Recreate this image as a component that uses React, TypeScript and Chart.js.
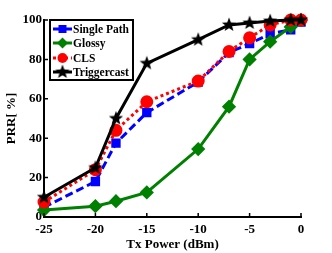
import React, { useEffect, useRef } from "react";
import { Chart, registerables } from "chart.js";

Chart.register(...registerables);

const txPower = [-25, -20, -18, -15, -10, -7, -5, -3, -1, 0];
const singlePath = [5, 18, 37.5, 53, 68.5, 83.5, 88, 93, 95, 99];
const glossy = [3.5, 5.5, 8, 12.5, 34.5, 56, 80, 89, 96.5, 100];
const cls = [7.6, 24, 44, 58.5, 69, 84, 91, 97.5, 100, 100];
const triggercast = [10, 25, 50, 78, 90, 97.5, 98.5, 99.5, 100, 100];
const xTicks = [-25, -20, -15, -10, -5, 0];
const yTicks = [0, 20, 40, 60, 80, 100];
const seriesNames = ["Single Path", "Glossy", "CLS", "Triggercast"];

const FONT = "'Liberation Serif', 'Times New Roman', serif";

function makeStar(size: number): HTMLCanvasElement {
  const c = document.createElement("canvas");
  c.width = size;
  c.height = size;
  const g = c.getContext("2d")!;
  const cx = size / 2, cy = size / 2;
  const R = size / 2 - 0.5, r = R * 0.42;
  g.beginPath();
  for (let i = 0; i < 10; i++) {
    const ang = -Math.PI / 2 + (i * Math.PI) / 5;
    const rad = i % 2 === 0 ? R : r;
    const px = cx + rad * Math.cos(ang), py = cy + rad * Math.sin(ang);
    if (i === 0) g.moveTo(px, py); else g.lineTo(px, py);
  }
  g.closePath();
  g.fillStyle = "#000";
  g.fill();
  return c;
}

export default function App() {
  const ref = useRef<HTMLCanvasElement>(null);
  useEffect(() => {
    const star = makeStar(16);
    const toPts = (arr: number[]) => arr.map((y, i) => ({ x: txPower[i], y }));

    const inwardTicks = {
      id: "inwardTicks",
      afterDraw(chart: any) {
        const ctx = chart.ctx;
        const xs = chart.scales.x, ys = chart.scales.y;
        const area = chart.chartArea;
        ctx.save();
        ctx.strokeStyle = "#000";
        ctx.lineWidth = 1.5;
        ctx.beginPath();
        xTicks.forEach((v) => {
          const px = xs.getPixelForValue(v);
          ctx.moveTo(px, area.bottom);
          ctx.lineTo(px, area.bottom - 4);
        });
        yTicks.forEach((v) => {
          const py = ys.getPixelForValue(v);
          ctx.moveTo(area.left, py);
          ctx.lineTo(area.left + 4, py);
        });
        ctx.stroke();
        ctx.restore();
      },
    };

    const legendBox = {
      id: "legendBox",
      afterDraw(chart: any) {
        const ctx = chart.ctx;
        const area = chart.chartArea;
        const x0 = area.left + 6, y0 = area.top;
        const w = 83, h = 60;
        ctx.save();
        ctx.fillStyle = "#fff";
        ctx.fillRect(x0, y0, w, h);
        ctx.strokeStyle = "#000";
        ctx.lineWidth = 2;
        ctx.strokeRect(x0, y0, w, h);
        const rows = [9, 23, 38, 52];
        chart.data.datasets.forEach((ds: any, i: number) => {
          const y = y0 + rows[i];
          ctx.save();
          ctx.strokeStyle = ds.borderColor;
          ctx.lineWidth = ds.borderWidth;
          ctx.setLineDash(ds.borderDash || []);
          ctx.beginPath();
          ctx.moveTo(x0 + 3, y);
          ctx.lineTo(x0 + 22, y);
          ctx.stroke();
          ctx.restore();
          const mx = x0 + 12.5;
          ctx.fillStyle = ds.pointBackgroundColor;
          if (ds.pointStyle === "rect") {
            ctx.fillRect(mx - 4, y - 4, 8, 8);
          } else if (ds.pointStyle === "rectRot") {
            ctx.beginPath();
            ctx.moveTo(mx, y - 5.5);
            ctx.lineTo(mx + 5.5, y);
            ctx.lineTo(mx, y + 5.5);
            ctx.lineTo(mx - 5.5, y);
            ctx.closePath();
            ctx.fill();
          } else if (ds.pointStyle === "circle") {
            ctx.beginPath();
            ctx.arc(mx, y, 5, 0, Math.PI * 2);
            ctx.fill();
          } else {
            ctx.drawImage(star, mx - star.width / 2, y - star.height / 2);
          }
          ctx.fillStyle = "#000";
          ctx.font = "bold 11.5px " + FONT;
          ctx.textBaseline = "middle";
          ctx.textAlign = "left";
          ctx.fillText(seriesNames[i], x0 + 23, y + 1);
        });
        ctx.restore();
      },
    };

    const chart = new Chart(ref.current!, {
      type: "line",
      data: {
        datasets: [
          {
            label: seriesNames[0],
            data: toPts(singlePath),
            borderColor: "#0000ff",
            backgroundColor: "#0000ff",
            pointBackgroundColor: "#0000ff",
            pointBorderColor: "#0000ff",
            borderWidth: 3,
            borderDash: [8, 4],
            pointStyle: "rect",
            pointRadius: 4.5,
            order: 3,
            clip: false,
          },
          {
            label: seriesNames[1],
            data: toPts(glossy),
            borderColor: "#008000",
            backgroundColor: "#008000",
            pointBackgroundColor: "#008000",
            pointBorderColor: "#008000",
            borderWidth: 3,
            pointStyle: "rectRot",
            pointRadius: 5,
            order: 2,
            clip: false,
          },
          {
            label: seriesNames[2],
            data: toPts(cls),
            borderColor: "#ff0000",
            backgroundColor: "#ff0000",
            pointBackgroundColor: "#ff0000",
            pointBorderColor: "#ff0000",
            borderWidth: 3,
            borderDash: [3, 3],
            pointStyle: "circle",
            pointRadius: 5,
            order: 1,
            clip: false,
          },
          {
            label: seriesNames[3],
            data: toPts(triggercast),
            borderColor: "#000000",
            backgroundColor: "#000000",
            pointBackgroundColor: "#000000",
            pointBorderColor: "#000000",
            borderWidth: 3,
            pointStyle: star as any,
            order: 0,
            clip: false,
          },
        ] as any,
      },
      options: {
        animation: false,
        responsive: false,
        events: [],
        layout: { padding: { top: 20, right: 31, left: 0, bottom: 0 } },
        plugins: { legend: { display: false }, tooltip: { enabled: false } },
        scales: {
          x: {
            type: "linear",
            min: -25,
            max: 0,
            afterFit: (s: any) => { s.height = 36; },
            afterBuildTicks: (s: any) => { s.ticks = xTicks.map((v) => ({ value: v })); },
            grid: { display: true, drawOnChartArea: false, drawTicks: false },
            border: { display: true, color: "#000", width: 2 },
            ticks: {
              color: "#000",
              padding: 5,
              maxRotation: 0,
              font: { family: FONT, size: 13, weight: "bold" },
            },
            title: {
              display: true,
              text: "Tx Power (dBm)",
              color: "#000",
              padding: { top: 0, bottom: 1 },
              font: { family: FONT, size: 13, weight: "bold" },
            },
          },
          y: {
            type: "linear",
            min: 0,
            max: 100,
            afterFit: (s: any) => { s.width = 44; },
            afterBuildTicks: (s: any) => { s.ticks = yTicks.map((v) => ({ value: v })); },
            grid: { display: true, drawOnChartArea: false, drawTicks: false },
            border: { display: true, color: "#000", width: 2 },
            ticks: {
              color: "#000",
              padding: 2,
              font: { family: FONT, size: 13, weight: "bold" },
            },
            title: {
              display: true,
              text: "PRR[ %]",
              color: "#000",
              padding: { top: 4, bottom: 0 },
              font: { family: FONT, size: 13, weight: "bold" },
            },
          },
        },
      } as any,
      plugins: [inwardTicks, legendBox],
    });
    return () => chart.destroy();
  }, []);
  return (
    <div style={{ position: "fixed", left: 0, top: 0, width: 332, height: 253, background: "#fff" }}>
      <canvas ref={ref} width={332} height={253} style={{ display: "block", width: 332, height: 253 }} />
    </div>
  );
}
